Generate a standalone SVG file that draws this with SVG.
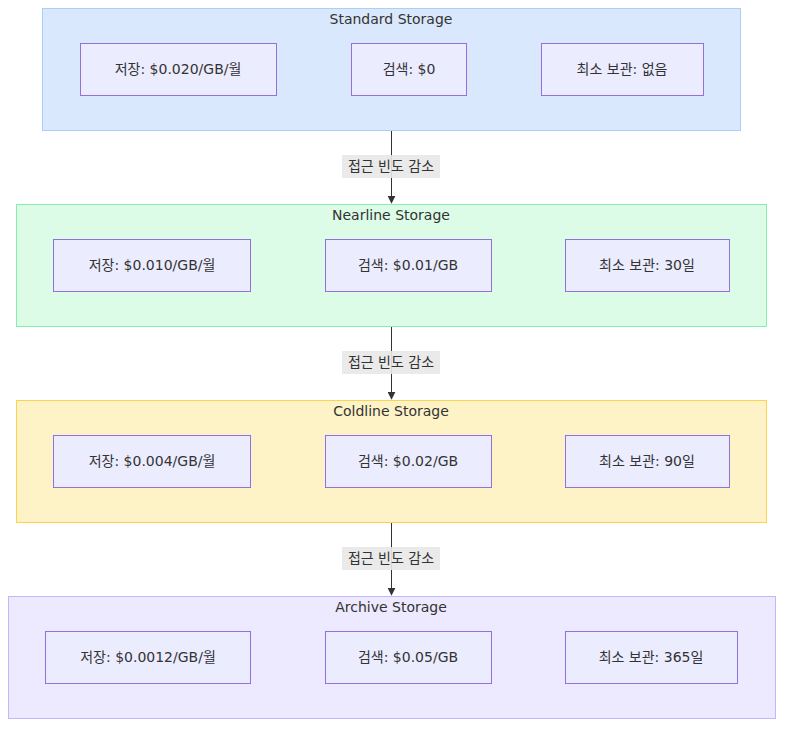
<svg xmlns="http://www.w3.org/2000/svg" width="791" height="734" viewBox="0 0 791 734">
<style>
text{font-family:"DejaVu Sans","Noto Sans CJK KR",sans-serif;font-size:14px;fill:#333;text-anchor:middle;dominant-baseline:central}
.n{fill:#ececff;stroke:#9370db;stroke-width:1}
.e{stroke:#333;stroke-width:1;fill:none}
.lb{fill:#e8e8e8;opacity:0.9}
</style>
<defs><marker id="a" viewBox="0 0 10 10" refX="9" refY="5" markerWidth="8" markerHeight="8" orient="auto"><path d="M0,0L10,5L0,10z" fill="#333"/></marker></defs>
<rect width="791" height="734" fill="#fff"/>
<g id="standard"><rect x="42.500" y="8.500" width="698" height="122" fill="#dae8fd" stroke="#a9cffd"/><text x="391" y="19">Standard Storage</text>
<g id="s1"><rect class="n" x="80.500" y="43.500" width="196" height="52"/><text x="178" y="69">저장: $0.020/GB/월</text></g>
<g id="s2"><rect class="n" x="351.500" y="43.500" width="115" height="52"/><text x="409" y="69">검색: $0</text></g>
<g id="s3"><rect class="n" x="541.500" y="43.500" width="162" height="52"/><text x="622" y="69">최소 보관: 없음</text></g></g>
<g id="nearline"><rect x="16.500" y="204.500" width="750" height="122" fill="#dcfce7" stroke="#86efac"/><text x="391" y="215">Nearline Storage</text>
<g id="n1"><rect class="n" x="53.500" y="239.500" width="197" height="52"/><text x="152" y="265">저장: $0.010/GB/월</text></g>
<g id="n2"><rect class="n" x="325.500" y="239.500" width="166" height="52"/><text x="408" y="265">검색: $0.01/GB</text></g>
<g id="n3"><rect class="n" x="565.500" y="239.500" width="164" height="52"/><text x="647" y="265">최소 보관: 30일</text></g></g>
<g id="coldline"><rect x="16.500" y="400.500" width="750" height="122" fill="#fef3c7" stroke="#fcd34d"/><text x="391" y="411">Coldline Storage</text>
<g id="c1"><rect class="n" x="53.500" y="435.500" width="197" height="52"/><text x="152" y="461">저장: $0.004/GB/월</text></g>
<g id="c2"><rect class="n" x="325.500" y="435.500" width="166" height="52"/><text x="408" y="461">검색: $0.02/GB</text></g>
<g id="c3"><rect class="n" x="565.500" y="435.500" width="164" height="52"/><text x="647" y="461">최소 보관: 90일</text></g></g>
<g id="archive"><rect x="8.500" y="596.500" width="767" height="122" fill="#ede9fe" stroke="#c4b5fd"/><text x="391" y="607">Archive Storage</text>
<g id="a1"><rect class="n" x="45.500" y="631.500" width="205" height="52"/><text x="148" y="657">저장: $0.0012/GB/월</text></g>
<g id="a2"><rect class="n" x="325.500" y="631.500" width="166" height="52"/><text x="408" y="657">검색: $0.05/GB</text></g>
<g id="a3"><rect class="n" x="565.500" y="631.500" width="172" height="52"/><text x="651" y="657">최소 보관: 365일</text></g></g>
<g id="edges">
<path class="e" d="M391.500,131V203" marker-end="url(#a)"/><rect class="lb" x="342" y="155" width="98" height="23"/><text x="391" y="166">접근 빈도 감소</text>
<path class="e" d="M391.500,327V399" marker-end="url(#a)"/><rect class="lb" x="342" y="351" width="98" height="23"/><text x="391" y="362">접근 빈도 감소</text>
<path class="e" d="M391.500,523V595" marker-end="url(#a)"/><rect class="lb" x="342" y="547" width="98" height="23"/><text x="391" y="558">접근 빈도 감소</text>
</g>
</svg>
